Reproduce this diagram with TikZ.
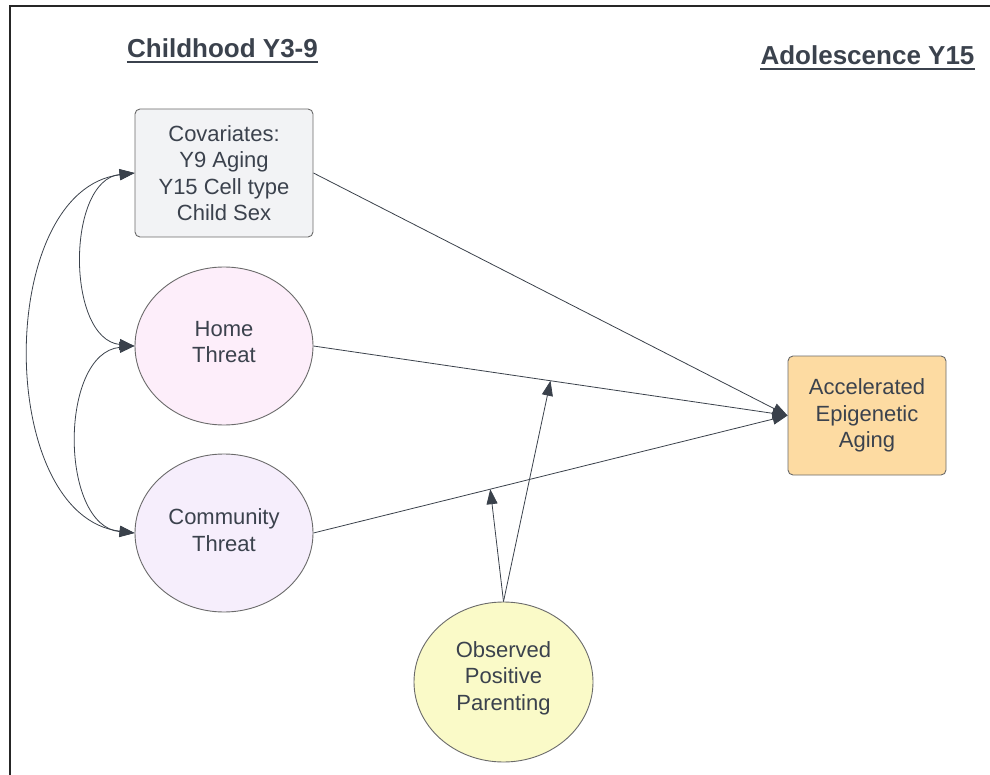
\documentclass[tikz,border=0pt]{standalone}
\usepackage{fontspec}
\setmainfont{Liberation Sans}
\usetikzlibrary{shapes.geometric,arrows.meta}
\definecolor{txt}{HTML}{3B424D}
\definecolor{ln}{HTML}{3A414B}
\definecolor{bd}{HTML}{6A6A6A}
\definecolor{covfill}{HTML}{F2F3F5}
\definecolor{homefill}{HTML}{FDEEFA}
\definecolor{commfill}{HTML}{F6EEFC}
\definecolor{parfill}{HTML}{FAFAC8}
\definecolor{aeafill}{HTML}{FDDBA2}
\tikzset{
  lbl/.style={text=txt, align=center, font=\fontsize{22}{26.4}\selectfont, inner sep=0pt},
  rbox/.style={lbl, draw=bd, line width=0.9pt, rounded corners=5pt, rectangle},
  oval/.style={draw=bd, line width=0.9pt, ellipse, inner sep=0pt, minimum width=178pt, minimum height=158pt},
  ttl/.style={text=txt, font=\fontsize{26}{30}\selectfont\bfseries, inner sep=0pt, anchor=base},
  conn/.style={draw=ln, line width=0.8pt, -{Triangle[length=15pt,width=11pt]}},
  dconn/.style={draw=ln, line width=0.8pt, {Triangle[length=15pt,width=11pt]}-{Triangle[length=15pt,width=11pt]}},
}
\begin{document}
\begin{tikzpicture}[x=1pt,y=-1pt]
\useasboundingbox (0,0) rectangle (990,775);
% frame
\draw[line width=2pt, draw=black!85] (10,776) -- (10,6) -- (991,6);

% titles
\node[ttl] (t1) at (222.5,58) {Childhood Y3-9};
\draw[line width=2pt, draw=txt] ([yshift=-4pt]t1.base west) -- ([yshift=-4pt]t1.base east);
\node[ttl] (t2) at (867.5,65) {Adolescence Y15};
\draw[line width=2pt, draw=txt] ([yshift=-4pt]t2.base west) -- ([yshift=-4pt]t2.base east);

% nodes
\node[rbox, fill=covfill, minimum width=178pt, minimum height=128pt] (cov) at (224,173)
  {Covariates:\\Y9 Aging\\Y15 Cell type\\Child Sex};
\node[oval, fill=homefill] (home) at (224,346) {};
\node[lbl] (hometxt) at ([yshift=4pt]home.center) {Home\\Threat};
\node[oval, fill=commfill] (comm) at (224,533) {};
\node[lbl] (commtxt) at ([yshift=3pt]comm.center) {Community\\Threat};
\node[oval, fill=parfill, minimum width=179pt, minimum height=160pt] (par) at (503.5,682) {};
\node[lbl] (partxt) at ([yshift=4pt]par.center) {Observed\\Positive\\Parenting};
\node[rbox, fill=aeafill, minimum width=158pt, minimum height=119pt] (aea) at (867,415.5)
  {Accelerated\\Epigenetic\\Aging};

% main paths
\draw[conn] (cov.east) -- (aea.west);
\draw[conn] (home.east) -- (aea.west);
\draw[conn] (comm.east) -- (aea.west);

% moderation targets
\path (home.east) -- (aea.west) coordinate[pos=0.5] (m1);
\path (comm.east) -- (aea.west) coordinate[pos=0.373] (m2);
\draw[conn] (par.north) -- (m1);
\draw[conn] (par.north) -- (m2);

% covariances
\draw[dconn] (cov.west) .. controls (66,180) and (66,339) .. (home.west);
\draw[dconn] (home.west) .. controls (59,353) and (59,526) .. (comm.west);
\draw[dconn] (cov.west) .. controls (-5,190) and (-5,516) .. (comm.west);
\end{tikzpicture}
\end{document}
